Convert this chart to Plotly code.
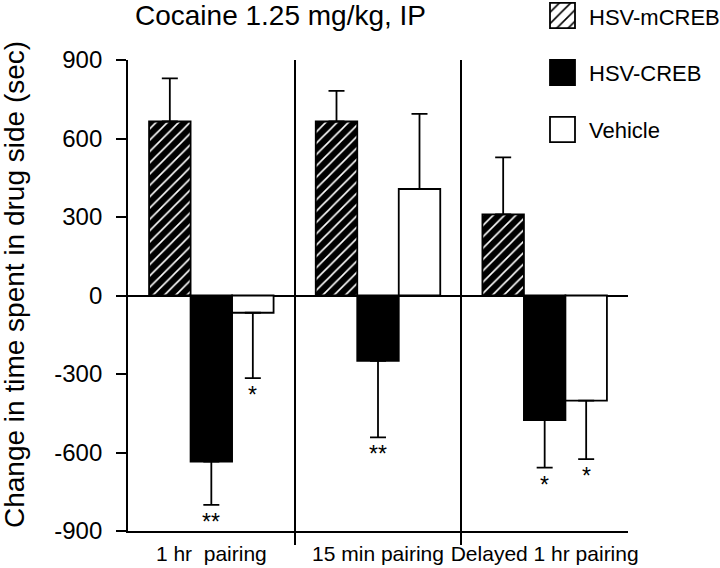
import plotly.graph_objects as go

# Data
categories = ["1 hr\u00a0 pairing", "15 min pairing", "Delayed 1 hr pairing"]
series_names = ["HSV-mCREB", "HSV-CREB", "Vehicle"]
mcreb_values = [665, 665, 310]
mcreb_errors = [165, 117, 218]
creb_values = [-635, -250, -476]
creb_errors = [165, 292, 182]
vehicle_values = [-66, 407, -402]
vehicle_errors = [250, 287, 223]
creb_marks = ["**", "**", "*"]
vehicle_marks = ["*", "", "*"]
y_ticks = [-900, -600, -300, 0, 300, 600, 900]
y_tick_labels = ["-900", "-600", "-300", "0", "300", "600", "900"]

W, H = 720, 568
FONT = "Liberation Sans, Arial, Helvetica, sans-serif"
BARGAP = 0.253
SLOT = (1 - BARGAP) / 3


def px_x(x):
    return x / W


def px_y(y):
    return 1 - y / H


HATCH = dict(shape="/", fgcolor="white", bgcolor="black",
             size=8, solidity=0.2, fillmode="replace")
STYLES = [
    dict(color="black", line=dict(color="black", width=1.8), pattern=HATCH),
    dict(color="black", line=dict(color="black", width=1.8)),
    dict(color="white", line=dict(color="black", width=1.8)),
]


def one_sided(values, errors):
    plus = [e if v >= 0 else 0 for v, e in zip(values, errors)]
    minus = [e if v < 0 else 0 for v, e in zip(values, errors)]
    return plus, minus


xs = list(range(len(categories)))
fig = go.Figure()

for name, vals, errs, style in zip(
    series_names,
    [mcreb_values, creb_values, vehicle_values],
    [mcreb_errors, creb_errors, vehicle_errors],
    STYLES,
):
    plus, minus = one_sided(vals, errs)
    fig.add_trace(go.Bar(
        x=xs, y=vals, name=name, marker=style,
        error_y=dict(type="data", symmetric=False, array=plus, arrayminus=minus,
                     color="black", thickness=1.8, width=8),
        showlegend=False,
    ))

# significance marks under the lower error caps
annotations = []
for k, (vals, errs, marks) in enumerate([(creb_values, creb_errors, creb_marks),
                                         (vehicle_values, vehicle_errors, vehicle_marks)]):
    offset = k * SLOT  # CREB sits in the middle slot, vehicle in the right one
    for i, m in enumerate(marks):
        if not m:
            continue
        annotations.append(dict(
            x=xs[i] + offset, y=vals[i] - errs[i], xref="x", yref="y",
            text=m, showarrow=False, yanchor="top", yshift=-2,
            font=dict(family=FONT, size=23, color="black"),
        ))

# legend swatches drawn as bars on a hidden axis pair
fig.add_trace(go.Bar(
    x=[1, 1, 1], y=[0, 1, 2], orientation="h", width=0.44,
    xaxis="x2", yaxis="y2", showlegend=False, hoverinfo="skip",
    marker=dict(
        color=["black", "black", "white"],
        line=dict(color="black", width=1.8),
        pattern=dict(shape=["/", "", ""], fgcolor="white", bgcolor="black",
                     size=8, solidity=0.2, fillmode="replace"),
    ),
))
for i, name in enumerate(series_names):
    annotations.append(dict(
        x=px_x(587), y=px_y(17 + 57 * i), xref="paper", yref="paper",
        text=name, showarrow=False, xanchor="left", yanchor="middle",
        font=dict(family=FONT, size=22, color="black"),
    ))

annotations.append(dict(
    x=px_x(280), y=px_y(15), xref="paper", yref="paper",
    text="Cocaine 1.25 mg/kg, IP", showarrow=False,
    xanchor="center", yanchor="middle",
    font=dict(family=FONT, size=28, color="black"),
))
annotations.append(dict(
    x=px_x(14), y=px_y(285), xref="paper", yref="paper",
    text="Change in time spent in drug side (sec)", showarrow=False,
    textangle=-90, xanchor="center", yanchor="middle",
    font=dict(family=FONT, size=28, color="black"),
))

fig.update_layout(
    width=W, height=H,
    margin=dict(l=0, r=0, t=0, b=0),
    plot_bgcolor="white", paper_bgcolor="white",
    barmode="group", bargap=BARGAP,
    showlegend=False,
    font=dict(family=FONT, color="black"),
    xaxis=dict(
        domain=[px_x(128), px_x(628)], range=[-0.5, 2.5], automargin=False,
        tickmode="array", tickvals=xs, ticktext=categories, ticks="",
        ticklabelstandoff=3,
        tickfont=dict(family=FONT, size=21, color="black"),
        showline=True, linecolor="black", linewidth=1.8,
        showgrid=False, zeroline=False,
        minor=dict(tickmode="array", tickvals=[0.5, 1.5], ticks="outside",
                   ticklen=12, tickwidth=1.8, tickcolor="black",
                   showgrid=True, gridcolor="black", gridwidth=1.8),
    ),
    yaxis=dict(
        domain=[px_y(531), px_y(60)], range=[-900, 900], automargin=False,
        tickmode="array", tickvals=y_ticks, ticktext=y_tick_labels,
        ticks="outside", ticklen=10, tickwidth=1.8, tickcolor="black",
        ticklabelstandoff=9,
        tickfont=dict(family=FONT, size=24, color="black"),
        showline=True, linecolor="black", linewidth=1.8,
        showgrid=False, zeroline=True, zerolinecolor="black", zerolinewidth=1.8,
    ),
    xaxis2=dict(domain=[px_x(549), px_x(576)], range=[-0.04, 1.04],
                visible=False, anchor="y2", automargin=False, fixedrange=True),
    yaxis2=dict(domain=[px_y(143), px_y(2)], range=[2.237, -0.237],
                visible=False, anchor="x2", automargin=False, fixedrange=True),
    annotations=annotations,
)

# drop the browser's default body margin so the figure sits at the page corner
fig.write_html("out.html", config={"displayModeBar": False},
               post_script="document.body.style.margin = '0';")
